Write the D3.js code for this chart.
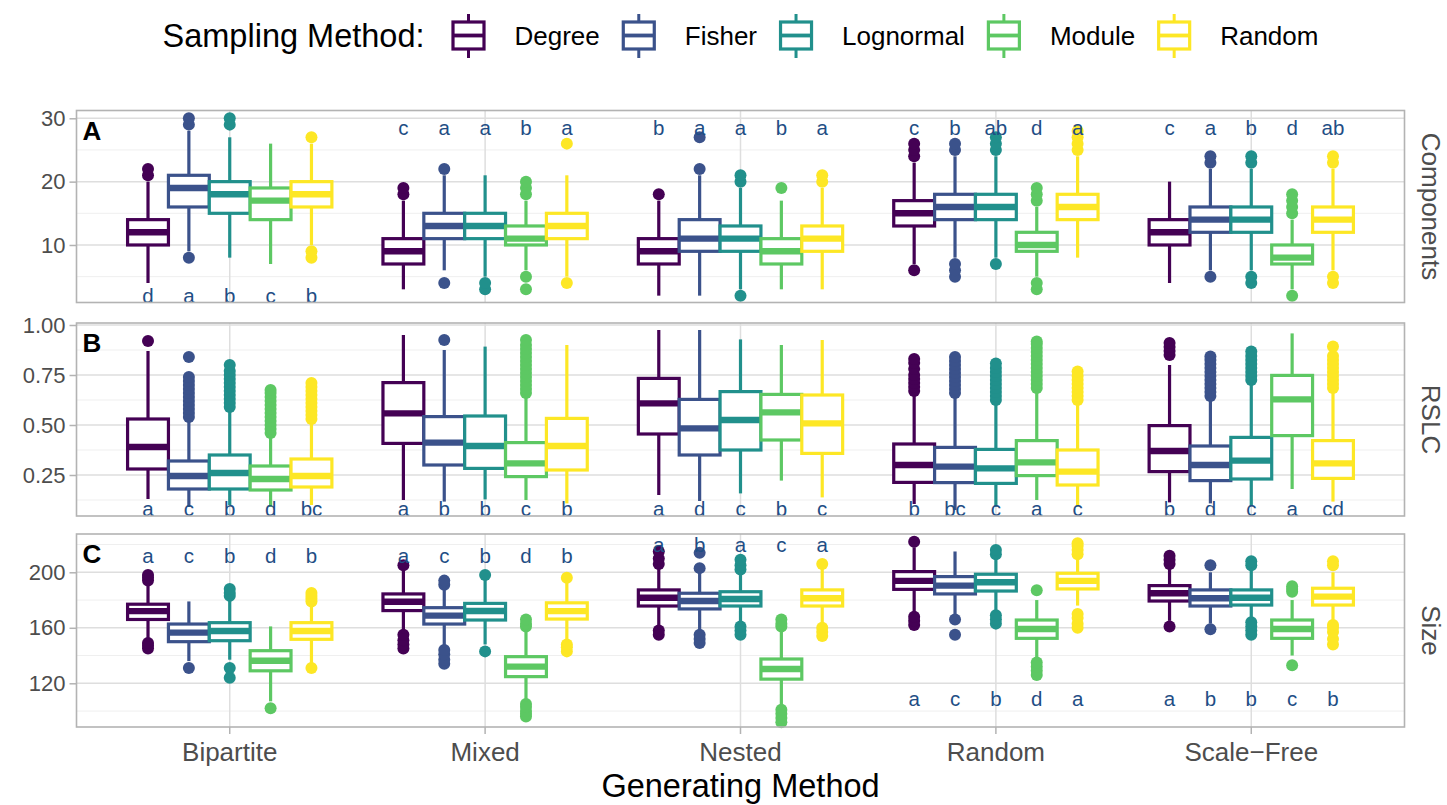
<!DOCTYPE html>
<html>
<head>
<meta charset="utf-8">
<script src="https://cdn.jsdelivr.net/npm/d3@7"></script>
<style>
  body { margin: 0; background: #fff; }
  svg { font-family: "Liberation Sans", Arial, sans-serif; }
</style>
</head>
<body>
<svg id="chart" width="1447" height="805"></svg>
<script>
const generating = ["Bipartite", "Mixed", "Nested", "Random", "Scale-Free"];
const sampling = ["Degree", "Fisher", "Lognormal", "Module", "Random"];
const samplingColors = ["#440154", "#3B528B", "#21908C", "#5DC863", "#FDE725"];

// each box: [lower whisker, q1, median, q3, upper whisker], rows = generating, cols = sampling
const compBoxes = [
  [[4, 10, 12, 14, 20], [9, 16, 19, 21, 28], [8, 15, 18, 20, 27], [7, 14, 17, 19, 26], [10, 16, 18, 20, 26]],
  [[3, 7, 9, 11, 17], [6, 11, 13, 15, 21], [5, 11, 13, 15, 21], [6, 10, 11, 13, 17], [5, 11, 13, 15, 21]],
  [[2, 7, 9, 11, 17], [2, 9, 11, 14, 21], [3, 9, 11, 13, 19], [3, 7, 9, 11, 17], [3, 9, 11, 13, 19]],
  [[7, 13, 15, 17, 23], [8, 14, 16, 18, 24], [8, 14, 16, 18, 24], [5, 9, 10, 12, 16], [8, 14, 16, 18, 24]],
  [[4, 10, 12, 14, 20], [6, 12, 14, 16, 22], [6, 12, 14, 16, 22], [3, 7, 8, 10, 14], [6, 12, 14, 16, 22]]
];
const compOutliers = [
  [[21, 22], [8, 29, 30], [29, 30], [], [8, 9, 27]],
  [[18, 19], [4, 22], [3, 4], [3, 5, 18, 19, 20], [4, 26]],
  [[18], [22, 27], [2, 20, 21], [19], [20, 21]],
  [[6, 24, 25, 26], [5, 6, 7, 25, 26], [7, 25, 26, 27], [3, 4, 17, 18, 19], [25, 26, 27, 28]],
  [[], [5, 23, 24], [4, 5, 23, 24], [2, 15, 16, 17, 18], [4, 5, 23, 24]]
];
const compLetters = [
  ["d", "a", "b", "c", "b"],
  ["c", "a", "a", "b", "a"],
  ["b", "a", "a", "b", "a"],
  ["c", "b", "ab", "d", "a"],
  ["c", "a", "b", "d", "ab"]
];
const compLetterY = [2.1, 28.6, 28.6, 28.6, 28.6];
const compTicks = [10, 20, 30];

const rslcBoxes = [
  [[0.13, 0.28, 0.39, 0.53, 0.87], [0.09, 0.18, 0.245, 0.32, 0.52], [0.10, 0.18, 0.26, 0.35, 0.57], [0.09, 0.175, 0.23, 0.295, 0.45], [0.10, 0.19, 0.245, 0.33, 0.51]],
  [[0.125, 0.408, 0.558, 0.712, 0.95], [0.117, 0.30, 0.412, 0.542, 0.875], [0.128, 0.283, 0.395, 0.545, 0.892], [0.125, 0.242, 0.308, 0.412, 0.64], [0.108, 0.275, 0.395, 0.533, 0.90]],
  [[0.15, 0.455, 0.608, 0.733, 0.975], [0.12, 0.35, 0.483, 0.628, 0.975], [0.158, 0.375, 0.525, 0.667, 0.928], [0.222, 0.425, 0.563, 0.653, 0.90], [0.138, 0.358, 0.508, 0.65, 0.925]],
  [[0.105, 0.213, 0.30, 0.405, 0.65], [0.075, 0.212, 0.292, 0.388, 0.64], [0.092, 0.208, 0.283, 0.378, 0.60], [0.125, 0.247, 0.313, 0.422, 0.67], [0.092, 0.20, 0.267, 0.375, 0.60]],
  [[0.113, 0.267, 0.37, 0.497, 0.80], [0.108, 0.222, 0.30, 0.395, 0.63], [0.095, 0.23, 0.322, 0.438, 0.71], [0.18, 0.447, 0.628, 0.748, 0.958], [0.117, 0.233, 0.308, 0.422, 0.67]]
];
const rslcOutliers = [
  [[0.92],
   [0.54, 0.56, 0.58, 0.60, 0.62, 0.64, 0.66, 0.68, 0.70, 0.72, 0.74, 0.84],
   [0.59, 0.61, 0.63, 0.65, 0.67, 0.69, 0.71, 0.73, 0.75, 0.77, 0.80],
   [0.46, 0.48, 0.50, 0.52, 0.54, 0.56, 0.58, 0.60, 0.62, 0.64, 0.66, 0.675],
   [0.53, 0.55, 0.57, 0.59, 0.61, 0.63, 0.65, 0.67, 0.69, 0.71]],
  [[], [0.925], [],
   [0.66, 0.68, 0.70, 0.72, 0.74, 0.76, 0.78, 0.80, 0.82, 0.84, 0.86, 0.88, 0.90, 0.925],
   []],
  [[], [], [], [], []],
  [[0.67, 0.69, 0.71, 0.73, 0.75, 0.78, 0.81, 0.83],
   [0.66, 0.68, 0.70, 0.72, 0.74, 0.76, 0.78, 0.80, 0.82, 0.84],
   [0.625, 0.645, 0.665, 0.685, 0.705, 0.725, 0.745, 0.765, 0.785, 0.808],
   [0.685, 0.705, 0.725, 0.745, 0.765, 0.785, 0.805, 0.825, 0.845, 0.865, 0.885, 0.905, 0.917],
   [0.625, 0.645, 0.665, 0.685, 0.705, 0.725, 0.745, 0.767]],
  [[0.85, 0.87, 0.89, 0.91],
   [0.645, 0.665, 0.685, 0.705, 0.725, 0.745, 0.765, 0.785, 0.805, 0.825, 0.842],
   [0.725, 0.745, 0.765, 0.785, 0.805, 0.825, 0.845, 0.867],
   [],
   [0.685, 0.705, 0.725, 0.745, 0.765, 0.785, 0.805, 0.825, 0.845, 0.892]]
];
const rslcLetters = [
  ["a", "c", "b", "d", "bc"],
  ["a", "b", "b", "c", "b"],
  ["a", "d", "c", "b", "c"],
  ["b", "bc", "c", "a", "c"],
  ["b", "d", "c", "a", "cd"]
];
const rslcLetterY = [0.085, 0.085, 0.085, 0.085, 0.085];
const rslcTicks = [0.25, 0.50, 0.75, 1.00];

const sizeBoxes = [
  [[150, 166, 172, 177, 192], [136, 150, 156.5, 162.7, 179], [137, 150.7, 157.7, 163.7, 181], [107, 129, 136.3, 143.5, 161], [134, 151.7, 157.7, 163.7, 177]],
  [[156, 172.4, 178.8, 184.4, 202], [146, 162.7, 168.8, 174.5, 189], [148, 165.6, 172.1, 177.6, 195], [107, 124.8, 132, 139.2, 159], [150, 166.3, 172, 178, 193]],
  [[159, 175.7, 181.7, 187.3, 203], [158, 173.6, 179.3, 184.9, 200], [162, 175.7, 180.8, 186, 200], [104, 123, 130.3, 137.5, 159], [162, 175.7, 181.3, 187.3, 203]],
  [[170, 187.7, 193.8, 200.5, 218], [168, 184.4, 190.4, 196.9, 215], [172, 186.5, 192.8, 198.6, 210], [138, 152.4, 159.1, 165.6, 180], [176, 188, 193.8, 199.3, 210]],
  [[165, 179.3, 184.9, 190.4, 203], [163, 175.7, 181.3, 187.3, 200], [166, 176.4, 181.7, 187.3, 203], [140, 152.4, 159.1, 165.6, 180], [165, 176.4, 182.5, 188.5, 200]]
];
const sizeOutliers = [
  [[145, 147, 149, 194, 196, 198], [131], [124, 131, 183, 185, 188], [102], [131, 179, 181, 183, 185]],
  [[145, 148, 151, 155, 205], [134, 137, 141, 144, 191, 194], [143, 198], [96, 98, 100, 103, 105, 161, 163, 166], [143, 146, 148, 196]],
  [[155, 158, 206, 210, 215], [149, 152, 155, 203, 214], [155, 158, 161, 202, 205, 209], [92, 95, 98, 101, 161, 163, 166], [154, 157, 160, 206]],
  [[162, 165, 168, 222], [155, 166], [163, 166, 169, 213, 216], [126, 129, 132, 135, 187], [160, 163, 167, 170, 213, 216, 219, 221]],
  [[161, 206, 209, 212], [159, 205], [155, 158, 161, 164, 205, 208], [133, 186, 188, 190], [148, 152, 157, 160, 162, 205, 208]]
];
const sizeLetters = [
  ["a", "c", "b", "d", "b"],
  ["a", "c", "b", "d", "b"],
  ["a", "b", "a", "c", "a"],
  ["a", "c", "b", "d", "a"],
  ["a", "b", "b", "c", "b"]
];
const sizeLetterY = [212.4, 212.4, 220, 109.3, 109.3];
const sizeTicks = [120, 160, 200];

const svg = d3.select("#chart");
const plotLeft = 76.5, plotRight = 1404.5;

const x = d3.scaleBand().domain(generating).range([plotLeft, plotRight])
  .paddingInner(0).paddingOuter(0.1);
const step = x.bandwidth();
const xs = d3.scaleBand().domain(sampling).range([-0.4 * step, 0.4 * step]);
const color = d3.scaleOrdinal().domain(sampling).range(samplingColors);

const panels = [
  {tag: "A", strip: "Components", boxes: compBoxes, outliers: compOutliers, letters: compLetters,
   letterY: compLetterY, ticks: compTicks, fmt: d3.format("d"), domain: [0.92, 31.23], top: 110.5, bottom: 302.5},
  {tag: "B", strip: "RSLC", boxes: rslcBoxes, outliers: rslcOutliers, letters: rslcLetters,
   letterY: rslcLetterY, ticks: rslcTicks, fmt: d3.format(".2f"), domain: [0.045, 1.01], top: 323, bottom: 516},
  {tag: "C", strip: "Size", boxes: sizeBoxes, outliers: sizeOutliers, letters: sizeLetters,
   letterY: sizeLetterY, ticks: sizeTicks, fmt: d3.format("d"), domain: [88.5, 227.6], top: 534, bottom: 727}
];

panels.forEach(p => {
  const y = d3.scaleLinear().domain(p.domain).range([p.bottom, p.top]);
  const g = svg.append("g");

  // minor grid halfway between major ticks
  const tstep = p.ticks[1] - p.ticks[0];
  const minor = d3.range(p.ticks[0] - tstep / 2, p.domain[1], tstep).filter(v => v > p.domain[0]);
  g.selectAll(".minor").data(minor).join("line")
    .attr("x1", plotLeft).attr("x2", plotRight)
    .attr("y1", d => y(d)).attr("y2", d => y(d))
    .attr("stroke", "#efefef").attr("stroke-width", 1);
  g.selectAll(".major").data(p.ticks).join("line")
    .attr("x1", plotLeft).attr("x2", plotRight)
    .attr("y1", d => y(d)).attr("y2", d => y(d))
    .attr("stroke", "#dedede").attr("stroke-width", 1.5);
  g.selectAll(".vmajor").data(generating).join("line")
    .attr("x1", d => x(d) + step / 2).attr("x2", d => x(d) + step / 2)
    .attr("y1", p.top).attr("y2", p.bottom)
    .attr("stroke", "#dedede").attr("stroke-width", 1.5);

  generating.forEach((gen, gi) => {
    sampling.forEach((s, si) => {
      const [lo, q1, med, q3, hi] = p.boxes[gi][si];
      const cx = x(gen) + step / 2 + xs(s) + xs.bandwidth() / 2;
      const bw = xs.bandwidth();
      const c = color(s);
      const bg = g.append("g");
      bg.selectAll("circle").data(p.outliers[gi][si]).join("circle")
        .attr("cx", cx).attr("cy", d => y(d)).attr("r", 6).attr("fill", c);
      bg.append("line").attr("x1", cx).attr("x2", cx).attr("y1", y(hi)).attr("y2", y(q3))
        .attr("stroke", c).attr("stroke-width", 3.2);
      bg.append("line").attr("x1", cx).attr("x2", cx).attr("y1", y(q1)).attr("y2", y(lo))
        .attr("stroke", c).attr("stroke-width", 3.2);
      bg.append("rect").attr("x", cx - bw / 2).attr("width", bw)
        .attr("y", y(q3)).attr("height", y(q1) - y(q3))
        .attr("fill", "#fff").attr("stroke", c).attr("stroke-width", 3.2);
      bg.append("line").attr("x1", cx - bw / 2).attr("x2", cx + bw / 2)
        .attr("y1", y(med)).attr("y2", y(med))
        .attr("stroke", c).attr("stroke-width", 6.4);
    });
  });

  // significance letters
  generating.forEach((gen, gi) => {
    g.append("g").selectAll("text").data(p.letters[gi]).join("text")
      .attr("x", (d, si) => x(gen) + step / 2 + xs(sampling[si]) + xs.bandwidth() / 2)
      .attr("y", y(p.letterY[gi]))
      .attr("text-anchor", "middle").attr("dominant-baseline", "central")
      .attr("fill", "#1f4e85").style("font-size", "20.5px")
      .text(d => d);
  });

  g.append("rect").attr("x", plotLeft).attr("y", p.top)
    .attr("width", plotRight - plotLeft).attr("height", p.bottom - p.top)
    .attr("fill", "none").attr("stroke", "#b3b3b3").attr("stroke-width", 1.6);

  g.append("text").attr("x", plotLeft + 6).attr("y", p.top + 29)
    .style("font-size", "26px").style("font-weight", "bold").attr("fill", "#000")
    .text(p.tag);

  const ya = g.append("g").attr("transform", `translate(${plotLeft},0)`)
    .call(d3.axisLeft(y).tickValues(p.ticks).tickFormat(p.fmt).tickSize(7).tickPadding(4));
  ya.select(".domain").remove();
  ya.selectAll(".tick line").attr("stroke", "#b3b3b3").attr("stroke-width", 1.5);
  ya.selectAll(".tick text").attr("fill", "#4d4d4d").style("font-size", "22px")
    .style("font-family", "Liberation Sans, Arial, sans-serif");

  const midY = (p.top + p.bottom) / 2;
  g.append("text").attr("transform", `translate(1431,${midY}) rotate(90)`)
    .attr("text-anchor", "middle").attr("dominant-baseline", "central")
    .attr("fill", "#4d4d4d").style("font-size", "26px").text(p.strip);
});

// x axis under last panel
const xa = svg.append("g").attr("transform", `translate(0,${panels[2].bottom})`)
  .call(d3.axisBottom(x).tickSize(7).tickPadding(9).tickFormat(d => d.replace("-", "\u2212")));
xa.select(".domain").remove();
xa.selectAll(".tick line").attr("stroke", "#b3b3b3").attr("stroke-width", 1.5);
xa.selectAll(".tick text").attr("fill", "#4d4d4d").style("font-size", "26px")
  .style("font-family", "Liberation Sans, Arial, sans-serif");

svg.append("text").attr("x", (plotLeft + plotRight) / 2).attr("y", 797)
  .attr("text-anchor", "middle").style("font-size", "32.5px").attr("fill", "#000")
  .text("Generating Method");

// legend
const legend = svg.append("g");
const legTitle = legend.append("text").attr("x", 0).attr("y", 47)
  .style("font-size", "32.5px").attr("fill", "#000").text("Sampling Method:");
let lx = legTitle.node().getComputedTextLength() + 27;
sampling.forEach(s => {
  const c = color(s);
  const k = legend.append("g").attr("transform", `translate(${lx},0)`);
  k.append("line").attr("x1", 17).attr("x2", 17).attr("y1", 14).attr("y2", 58)
    .attr("stroke", c).attr("stroke-width", 3);
  k.append("rect").attr("x", 1.5).attr("y", 22).attr("width", 31).attr("height", 27)
    .attr("fill", "#fff").attr("stroke", c).attr("stroke-width", 3.2);
  k.append("line").attr("x1", 1.5).attr("x2", 32.5).attr("y1", 35.5).attr("y2", 35.5)
    .attr("stroke", c).attr("stroke-width", 3.8);
  const t = k.append("text").attr("x", 63).attr("y", 45)
    .style("font-size", "26px").attr("fill", "#000").text(s);
  lx += 63 + t.node().getComputedTextLength() + 22;
});
const legWidth = lx - 22;
legend.attr("transform", `translate(${(plotLeft + plotRight) / 2 - legWidth / 2},0)`);
</script>
</body>
</html>
